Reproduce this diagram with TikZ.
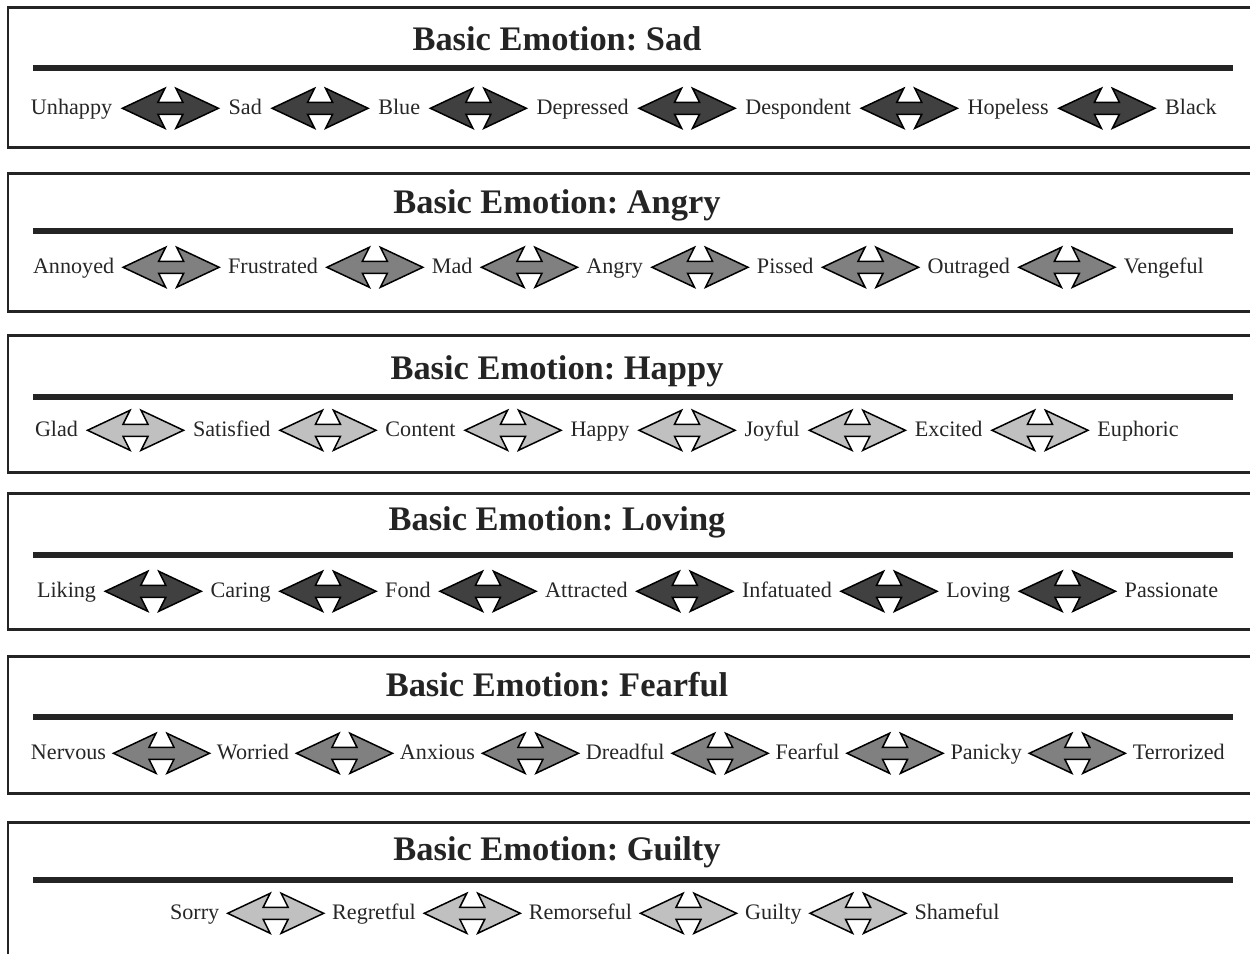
\documentclass[tikz,border=0pt]{standalone}
\usepackage{fontspec}
\setmainfont{Liberation Serif}
\usepackage{tikz}
\usetikzlibrary{positioning}
\frenchspacing
\definecolor{arrowdark}{RGB}{64,64,64}
\definecolor{arrowmid}{RGB}{128,128,128}
\definecolor{arrowlight}{RGB}{192,192,192}
\definecolor{inkgray}{RGB}{36,36,36}
\tikzset{
  panelbox/.style={
    draw=inkgray,
    line width=0.06cm
  },
  rulebar/.style={
    draw=inkgray,
    line width=0.12cm
  },
  heading/.style={
    anchor=base,
    inner sep=0pt,
    font=\fontsize{19.6}{23}\selectfont\bfseries,
    text=inkgray
  },
  word/.style={
    inner sep=0pt,
    outer sep=0pt,
    text height=9pt,
    text depth=2.5pt,
    font=\fontsize{12.6}{15}\selectfont,
    text=black!85
  },
  pics/emoarrow/.style={code={
    \draw[line width=0.03cm, draw=black, fill=#1]
      (-48,0) -- (-5.5,-20) -- (-12.5,-6) -- (12.5,-6) -- (5.5,-20) -- (48,0)
      -- (5.5,20) -- (12.5,6) -- (-12.5,6) -- (-5.5,20) -- cycle;
  }}
}
\begin{document}
\begin{tikzpicture}[x=0.02cm, y=-0.02cm, node distance=2.3cm]
\useasboundingbox (0,0) rectangle (1250,953);

% Sad
\draw[panelbox] (8,8) rectangle (1262,147);
\node[heading] (tsad) at (557,51) {Basic Emotion: Sad};
\draw[rulebar] (33,68) -- (1233,68);
\node[word, anchor=base west] (sad1) at (31,114) {Unhappy};
\node[word, right=2.33cm of sad1] (sad2) {Sad};
\node[word, right=2.33cm of sad2] (sad3) {Blue};
\node[word, right=2.33cm of sad3] (sad4) {Depressed};
\node[word, right=2.33cm of sad4] (sad5) {Despondent};
\node[word, right=2.33cm of sad5] (sad6) {Hopeless};
\node[word, right=2.33cm of sad6] (sad7) {Black};
\path (sad1) -- pic[midway]{emoarrow=arrowdark} (sad2);
\path (sad2) -- pic[midway]{emoarrow=arrowdark} (sad3);
\path (sad3) -- pic[midway]{emoarrow=arrowdark} (sad4);
\path (sad4) -- pic[midway]{emoarrow=arrowdark} (sad5);
\path (sad5) -- pic[midway]{emoarrow=arrowdark} (sad6);
\path (sad6) -- pic[midway]{emoarrow=arrowdark} (sad7);

% Angry
\draw[panelbox] (8,173) rectangle (1262,311);
\node[heading] (tang) at (557,213) {Basic Emotion: Angry};
\draw[rulebar] (33,231) -- (1233,231);
\node[word, anchor=base west] (ang1) at (33,273) {Annoyed};
\node[word, right=2.28cm of ang1] (ang2) {Frustrated};
\node[word, right=2.28cm of ang2] (ang3) {Mad};
\node[word, right=2.28cm of ang3] (ang4) {Angry};
\node[word, right=2.28cm of ang4] (ang5) {Pissed};
\node[word, right=2.28cm of ang5] (ang6) {Outraged};
\node[word, right=2.28cm of ang6] (ang7) {Vengeful};
\path (ang1) -- pic[midway]{emoarrow=arrowmid} (ang2);
\path (ang2) -- pic[midway]{emoarrow=arrowmid} (ang3);
\path (ang3) -- pic[midway]{emoarrow=arrowmid} (ang4);
\path (ang4) -- pic[midway]{emoarrow=arrowmid} (ang5);
\path (ang5) -- pic[midway]{emoarrow=arrowmid} (ang6);
\path (ang6) -- pic[midway]{emoarrow=arrowmid} (ang7);

% Happy
\draw[panelbox] (8,335) rectangle (1262,472);
\node[heading] (thap) at (557,379) {Basic Emotion: Happy};
\draw[rulebar] (33,397) -- (1233,397);
\node[word, anchor=base west] (hap1) at (35,436) {Glad};
\node[word, right=of hap1] (hap2) {Satisfied};
\node[word, right=of hap2] (hap3) {Content};
\node[word, right=of hap3] (hap4) {Happy};
\node[word, right=of hap4] (hap5) {Joyful};
\node[word, right=of hap5] (hap6) {Excited};
\node[word, right=of hap6] (hap7) {Euphoric};
\path (hap1) -- pic[midway]{emoarrow=arrowlight} (hap2);
\path (hap2) -- pic[midway]{emoarrow=arrowlight} (hap3);
\path (hap3) -- pic[midway]{emoarrow=arrowlight} (hap4);
\path (hap4) -- pic[midway]{emoarrow=arrowlight} (hap5);
\path (hap5) -- pic[midway]{emoarrow=arrowlight} (hap6);
\path (hap6) -- pic[midway]{emoarrow=arrowlight} (hap7);

% Loving
\draw[panelbox] (8,493) rectangle (1262,629);
\node[heading] (tlov) at (557,530) {Basic Emotion: Loving};
\draw[rulebar] (33,555) -- (1233,555);
\node[word, anchor=base west] (lov1) at (37,597) {Liking};
\node[word, right=2.29cm of lov1] (lov2) {Caring};
\node[word, right=2.29cm of lov2] (lov3) {Fond};
\node[word, right=2.29cm of lov3] (lov4) {Attracted};
\node[word, right=2.29cm of lov4] (lov5) {Infatuated};
\node[word, right=2.29cm of lov5] (lov6) {Loving};
\node[word, right=2.29cm of lov6] (lov7) {Passionate};
\path (lov1) -- pic[midway]{emoarrow=arrowdark} (lov2);
\path (lov2) -- pic[midway]{emoarrow=arrowdark} (lov3);
\path (lov3) -- pic[midway]{emoarrow=arrowdark} (lov4);
\path (lov4) -- pic[midway]{emoarrow=arrowdark} (lov5);
\path (lov5) -- pic[midway]{emoarrow=arrowdark} (lov6);
\path (lov6) -- pic[midway]{emoarrow=arrowdark} (lov7);

% Fearful
\draw[panelbox] (8,656) rectangle (1262,793);
\node[heading] (tfea) at (557,696) {Basic Emotion: Fearful};
\draw[rulebar] (33,717) -- (1233,717);
\node[word, anchor=base west] (fea1) at (31,759) {Nervous};
\node[word, right=2.22cm of fea1] (fea2) {Worried};
\node[word, right=2.22cm of fea2] (fea3) {Anxious};
\node[word, right=2.22cm of fea3] (fea4) {Dreadful};
\node[word, right=2.22cm of fea4] (fea5) {Fearful};
\node[word, right=2.22cm of fea5] (fea6) {Panicky};
\node[word, right=2.22cm of fea6] (fea7) {Terrorized};
\path (fea1) -- pic[midway]{emoarrow=arrowmid} (fea2);
\path (fea2) -- pic[midway]{emoarrow=arrowmid} (fea3);
\path (fea3) -- pic[midway]{emoarrow=arrowmid} (fea4);
\path (fea4) -- pic[midway]{emoarrow=arrowmid} (fea5);
\path (fea5) -- pic[midway]{emoarrow=arrowmid} (fea6);
\path (fea6) -- pic[midway]{emoarrow=arrowmid} (fea7);

% Guilty
\draw[panelbox] (8,822) rectangle (1262,975);
\node[heading] (tgui) at (557,860) {Basic Emotion: Guilty};
\draw[rulebar] (33,880) -- (1233,880);
\node[word, anchor=base west] (gui1) at (170,919) {Sorry};
\node[word, right=2.26cm of gui1] (gui2) {Regretful};
\node[word, right=2.26cm of gui2] (gui3) {Remorseful};
\node[word, right=2.26cm of gui3] (gui4) {Guilty};
\node[word, right=2.26cm of gui4] (gui5) {Shameful};
\path (gui1) -- pic[midway]{emoarrow=arrowlight} (gui2);
\path (gui2) -- pic[midway]{emoarrow=arrowlight} (gui3);
\path (gui3) -- pic[midway]{emoarrow=arrowlight} (gui4);
\path (gui4) -- pic[midway]{emoarrow=arrowlight} (gui5);
\end{tikzpicture}
\end{document}
